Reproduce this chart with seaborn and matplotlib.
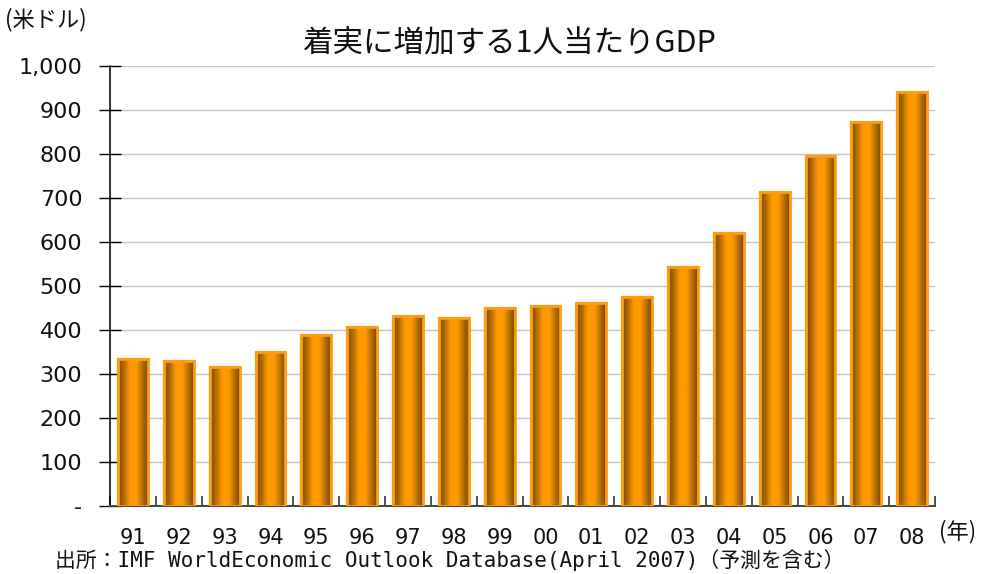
import numpy as np
import pandas as pd
import matplotlib
matplotlib.use("Agg")
import matplotlib.pyplot as plt
from matplotlib.colors import LinearSegmentedColormap
from matplotlib.ticker import FixedLocator, FuncFormatter
import seaborn as sns

# 1人当たりGDP (米ドル)
years = ["91", "92", "93", "94", "95", "96", "97", "98", "99",
         "00", "01", "02", "03", "04", "05", "06", "07", "08"]
gdp = [333, 329, 316, 350, 389, 406, 432, 428, 449,
       454, 462, 475, 543, 621, 714, 795, 872, 940]
y_ticks = [0, 100, 200, 300, 400, 500, 600, 700, 800, 900, 1000]

title = "着実に増加する1人当たりGDP"
unit_label = "(米ドル)"
year_label = "(年)"
source = "出所：IMF WorldEconomic Outlook Database(April 2007)（予測を含む）"

sns.set_theme(style="white")
plt.rcParams["font.family"] = ["DejaVu Sans", "Noto Sans CJK JP"]

df = pd.DataFrame({"year": years, "gdp": gdp})

fig = plt.figure(figsize=(9.86, 5.74), dpi=100)
ax = fig.add_axes([0.1116, 0.1185, 0.8367, 0.7665])

sns.barplot(data=df, x="year", y="gdp", color="#FF9900", width=0.65,
            edgecolor="#FFA21F", linewidth=1.6, saturation=1, ax=ax, zorder=3)

# cylinder-style shading across each bar
cyl = LinearSegmentedColormap.from_list(
    "cyl", [(0.0, "#7A4A00"), (0.18, "#A86800"), (0.40, "#FF9900"),
            (0.62, "#FF9900"), (0.85, "#A86800"), (1.0, "#7A4A00")])
grad = np.linspace(0, 1, 256).reshape(1, -1)
for p in ax.patches:
    x0, w, h = p.get_x(), p.get_width(), p.get_height()
    im = ax.imshow(grad, cmap=cyl, aspect="auto", interpolation="bicubic",
                   extent=(x0, x0 + w, 0, h), zorder=3.5)
    im.set_clip_path(p)
    # outline drawn over the shading
    ax.add_patch(plt.Rectangle((x0, 0), w, h, fill=False, edgecolor="#FF9D10",
                               linewidth=2.0, zorder=4))

ax.set_xlim(-0.5, len(years) - 0.5)
ax.set_ylim(0, 1000)

ax.yaxis.set_major_locator(FixedLocator(y_ticks))
ax.yaxis.set_major_formatter(FuncFormatter(lambda v, _: "-" if v == 0 else f"{int(v):,}"))
ax.grid(axis="y", color="#C4C4C4", linewidth=1.0, zorder=0)
ax.grid(axis="x", visible=False)
ax.set_axisbelow(True)

ax.tick_params(axis="y", which="major", direction="inout", length=16, width=1,
               color="black", labelsize=16, pad=12, left=True)
ax.tick_params(axis="x", which="major", length=0, labelsize=15, pad=16)
ax.xaxis.set_minor_locator(FixedLocator(np.arange(-0.5, len(years), 1.0)))
ax.tick_params(axis="x", which="minor", direction="in", length=7, width=1.2,
               color="#333333", bottom=True)

for side in ("top", "right"):
    ax.spines[side].set_visible(False)
ax.spines["left"].set_color("black")
ax.spines["left"].set_linewidth(1.1)
ax.spines["bottom"].set_color("#444444")
ax.spines["bottom"].set_linewidth(1.4)

ax.set_xlabel("")
ax.set_ylabel("")

for lab in ax.get_yticklabels() + ax.get_xticklabels():
    lab.set_color("#111111")

fig.text(510 / 986, 1 - 43 / 574, title, ha="center", va="center",
         fontsize=22, family=["Noto Sans CJK JP", "DejaVu Sans"], color="#111111")
fig.text(5 / 986, 1 - 20 / 574, unit_label, ha="left", va="center",
         fontsize=16, family=["Noto Sans CJK JP", "DejaVu Sans"], color="#111111")
fig.text(939 / 986, 1 - 532 / 574, year_label, ha="left", va="center",
         fontsize=16, family=["Noto Sans CJK JP", "DejaVu Sans"], color="#111111")
fig.text(55 / 986, 1 - 560 / 574, source, ha="left", va="center",
         fontsize=15, family=["DejaVu Sans Mono", "Noto Sans CJK JP"], color="#111111")

fig.savefig("out.png", dpi=100)
